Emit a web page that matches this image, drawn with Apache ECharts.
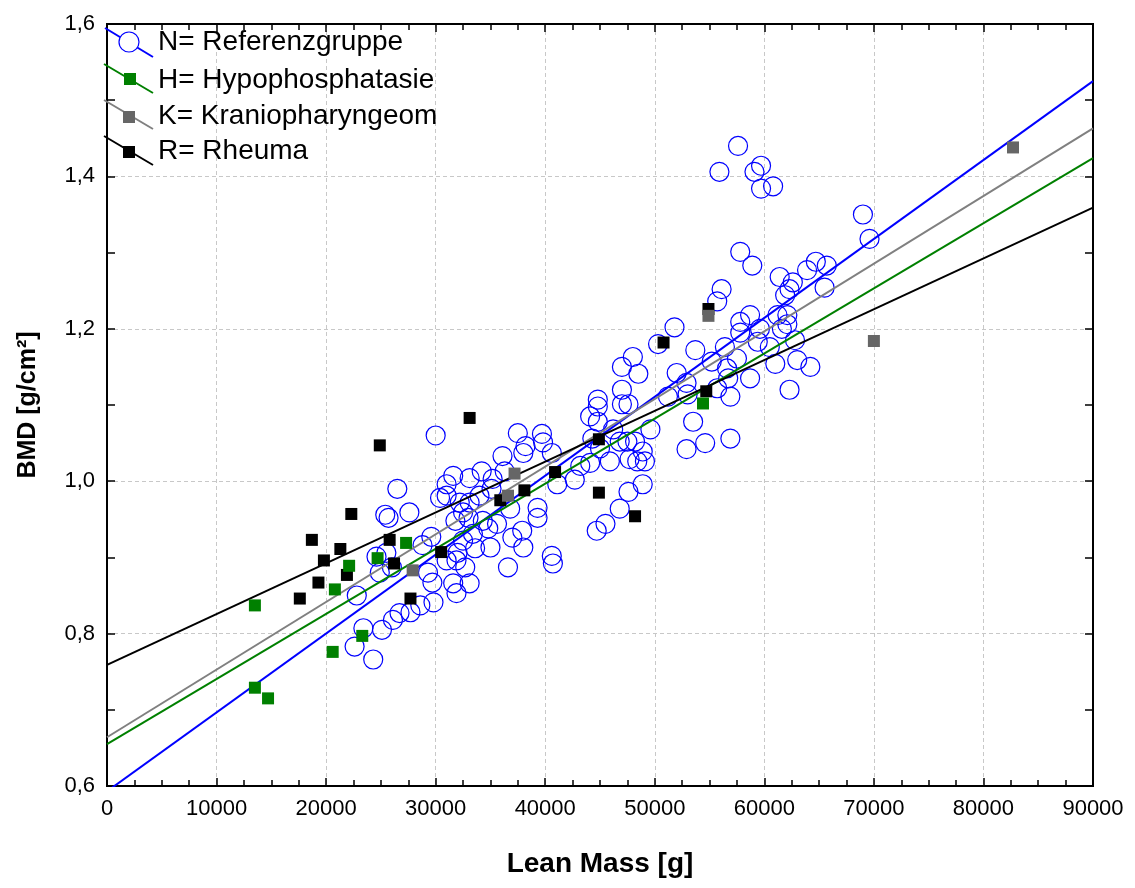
<!DOCTYPE html>
<html>
<head>
<meta charset="utf-8">
<script src="https://cdn.jsdelivr.net/npm/echarts@6/dist/echarts.min.js"></script>
<style>
html,body{margin:0;padding:0;background:#fff;}
#chart{width:1135px;height:888px;}
</style>
</head>
<body>
<div id="chart"></div>
<script>
// ---- Data (Lean Mass [g], BMD [g/cm²]) ----
const xTicks = [0, 10000, 20000, 30000, 40000, 50000, 60000, 70000, 80000, 90000];
const yTicks = [0.6, 0.8, 1.0, 1.2, 1.4, 1.6];

const legendNames = ['N= Referenzgruppe', 'H= Hypophosphatasie', 'K= Kraniopharyngeom', 'R= Rheuma'];

const referenzgruppe = [
  [30000,1.060],[26500,0.990],[25400,0.956],[25700,0.952],[27600,0.959],[24600,0.901],[25500,0.906],
  [26000,0.887],[24900,0.880],[28800,0.916],[29600,0.927],[31000,0.996],[31600,1.007],[33100,1.004],
  [31000,0.981],[30400,0.978],[31800,0.948],[33000,0.952],[33400,0.931],[32500,0.922],[31000,0.896],
  [31900,0.896],[32700,0.887],[33600,0.912],[29700,0.867],[31600,0.866],[33100,0.866],[31900,0.853],
  [29800,0.841],[28600,0.837],[27700,0.828],[26700,0.827],[26100,0.818],[25100,0.805],[23400,0.807],
  [22600,0.783],[24300,0.766],[22800,0.850],[34200,1.013],[32200,0.972],[33100,0.972],[34000,0.981],
  [32500,0.959],[32000,0.906],[29300,0.880],[35200,1.003],[36300,1.013],[35100,0.990],[35600,0.944],
  [36800,0.964],[37000,0.926],[38000,0.913],[36600,0.887],[37900,0.935],[36100,1.033],[37500,1.063],
  [38000,1.037],[38200,1.046],[34300,0.948],[34800,0.938],[39300,0.952],[39300,0.965],[35000,0.913],
  [39800,1.051],[39700,1.062],[40600,1.037],[40600,0.902],[40700,0.892],[41100,0.996],[42700,1.002],
  [44100,1.085],[44800,1.098],[44800,1.107],[47000,1.120],[47000,1.101],[44800,1.078],[46200,1.068],
  [44300,1.056],[45000,1.043],[45900,1.026],[44100,1.024],[43200,1.020],[47500,1.052],[48200,1.052],
  [48900,1.039],[47700,1.029],[48400,1.026],[49600,1.068],[48900,0.996],[47600,0.986],[46800,0.964],
  [45500,0.944],[44700,0.935],[51200,1.111],[47600,1.101],[48000,1.163],[47000,1.150],[48500,1.141],
  [53500,1.078],[52900,1.042],[54600,1.050],[56900,1.056],[46800,1.052],[49100,1.026],[51800,1.202],
  [50300,1.180],[52000,1.142],[52900,1.129],[53000,1.114],[53700,1.172],[56100,1.252],[55700,1.236],
  [57800,1.209],[58700,1.218],[57800,1.195],[59600,1.200],[60500,1.176],[61600,1.200],[62100,1.218],
  [61200,1.218],[62300,1.252],[65500,1.254],[56400,1.176],[57500,1.161],[55200,1.157],[56600,1.148],
  [55700,1.122],[56900,1.111],[58700,1.135],[61000,1.154],[63000,1.159],[64200,1.150],[62300,1.120],
  [62800,1.185],[59400,1.183],[58900,1.283],[61400,1.268],[63900,1.277],[62600,1.261],[61900,1.244],
  [62100,1.206],[56700,1.135],[57600,1.440],[55900,1.406],[59700,1.414],[59100,1.406],[59700,1.384],
  [60800,1.387],[69000,1.350],[69600,1.318],[57800,1.301],[64700,1.288],[65700,1.283]
];

const hypophosphatasie = [
  [13500,0.837],[13500,0.729],[14700,0.715],[20600,0.776],[20800,0.858],[22100,0.889],
  [23300,0.797],[24700,0.899],[27300,0.919],[54400,1.102]
];

const kraniopharyngeom = [
  [27900,0.883],[37200,1.010],[36600,0.981],[54900,1.217],[70000,1.184],[82700,1.438]
];

const rheuma = [
  [24900,1.047],[33100,1.083],[22300,0.957],[18700,0.923],[21300,0.911],[19800,0.896],[19300,0.867],
  [21900,0.877],[17600,0.846],[25800,0.923],[26200,0.892],[27700,0.846],[30500,0.907],[44900,1.055],
  [40900,1.012],[38100,0.988],[35900,0.975],[44900,0.985],[48200,0.954],[50800,1.182],[54700,1.118],
  [54900,1.226]
];

// regression lines: value at x=0 and x=90000
const fitN = [[0,0.593],[90000,1.525]];
const fitH = [[0,0.655],[90000,1.424]];
const fitK = [[0,0.664],[90000,1.463]];
const fitR = [[0,0.759],[90000,1.359]];

// ---- Styles ----
const FONT = '"Liberation Sans", Arial, sans-serif';
const BLUE = '#0000ff', GREEN = '#008000', GRAYL = '#808080', GRAYM = '#666666', BLACK = '#000000';

const chart = echarts.init(document.getElementById('chart'), null, {renderer: 'canvas'});

const fmtY = v => v.toFixed(1).replace('.', ',');
const fmtX = v => String(Math.round(v));

function lineSeries(data, color, z) {
  return {type: 'line', data: data, showSymbol: false, symbol: 'none', clip: true, silent: true,
    lineStyle: {color: color, width: 2}, z: z, animation: false};
}

const option = {
  backgroundColor: '#ffffff',
  animation: false,
  grid: {left: 107, right: 42, top: 24, bottom: 102, containLabel: false,
    show: true, borderColor: '#000', borderWidth: 2, backgroundColor: 'transparent'},
  xAxis: [{
    type: 'value', min: xTicks[0], max: xTicks[xTicks.length - 1], interval: 10000, position: 'bottom',
    name: 'Lean Mass [g]', nameLocation: 'middle', nameGap: 64,
    nameTextStyle: {fontFamily: FONT, fontSize: 28, fontWeight: 'bold', color: '#000'},
    axisLine: {show: true, onZero: false, lineStyle: {color: '#000', width: 2}},
    axisTick: {show: true, inside: true, length: 8, lineStyle: {color: '#000', width: 1.5}},
    minorTick: {show: true, splitNumber: 4, length: 6, lineStyle: {color: '#000', width: 1.5}},
    axisLabel: {fontFamily: FONT, fontSize: 22, color: '#000', margin: 12, formatter: fmtX},
    splitLine: {show: true, lineStyle: {color: '#c8c8c8', type: [4, 3], width: 1}}
  }, {
    type: 'value', min: xTicks[0], max: xTicks[xTicks.length - 1], interval: 10000, position: 'top',
    axisLine: {show: true, onZero: false, lineStyle: {color: '#000', width: 2}},
    axisTick: {show: true, inside: true, length: 8, lineStyle: {color: '#000', width: 1.5}},
    minorTick: {show: true, splitNumber: 4, length: 6, lineStyle: {color: '#000', width: 1.5}},
    axisLabel: {show: false}, splitLine: {show: false}
  }],
  yAxis: [{
    type: 'value', min: yTicks[0], max: yTicks[yTicks.length - 1], interval: 0.2, position: 'left',
    name: 'BMD [g/cm²]', nameLocation: 'middle', nameGap: 66, nameRotate: 90,
    nameTextStyle: {fontFamily: FONT, fontSize: 25, fontWeight: 'bold', color: '#000'},
    axisLine: {show: true, onZero: false, lineStyle: {color: '#000', width: 2}},
    axisTick: {show: true, inside: true, length: 8, lineStyle: {color: '#000', width: 1.5}},
    minorTick: {show: true, splitNumber: 2, length: 8, lineStyle: {color: '#000', width: 1.5}},
    axisLabel: {fontFamily: FONT, fontSize: 22, color: '#000', margin: 12, formatter: fmtY},
    splitLine: {show: true, lineStyle: {color: '#c8c8c8', type: [4, 3], width: 1}}
  }, {
    type: 'value', min: yTicks[0], max: yTicks[yTicks.length - 1], interval: 0.2, position: 'right',
    axisLine: {show: true, onZero: false, lineStyle: {color: '#000', width: 2}},
    axisTick: {show: true, inside: true, length: 8, lineStyle: {color: '#000', width: 1.5}},
    minorTick: {show: true, splitNumber: 2, length: 8, lineStyle: {color: '#000', width: 1.5}},
    axisLabel: {show: false}, splitLine: {show: false}
  }],
  series: [
    {name: legendNames[0], type: 'scatter', data: referenzgruppe, symbol: 'circle', symbolSize: 19,
      itemStyle: {color: 'rgba(0,0,0,0)', borderColor: BLUE, borderWidth: 1.2, opacity: 1}, z: 2},
    lineSeries(fitN, BLUE, 3),
    lineSeries(fitK, GRAYL, 3),
    lineSeries(fitH, GREEN, 3),
    lineSeries(fitR, BLACK, 3),
    {name: legendNames[3], type: 'scatter', data: rheuma, symbol: 'rect', symbolSize: 12,
      itemStyle: {color: BLACK, opacity: 1}, z: 4},
    {name: legendNames[1], type: 'scatter', data: hypophosphatasie, symbol: 'rect', symbolSize: 12,
      itemStyle: {color: GREEN, opacity: 1}, z: 5},
    {name: legendNames[2], type: 'scatter', data: kraniopharyngeom, symbol: 'rect', symbolSize: 12,
      itemStyle: {color: GRAYM, opacity: 1}, z: 6}
  ],
  graphic: [
    // legend (decorative sample marks + real text)
    {type: 'line', shape: {x1: 105, y1: 28, x2: 153, y2: 57}, style: {stroke: BLUE, lineWidth: 2}, z: 100},
    {type: 'circle', shape: {cx: 129, cy: 42, r: 10}, style: {fill: '#fff', stroke: BLUE, lineWidth: 1.2}, z: 101},
    {type: 'text', x: 158, y: 42, style: {text: legendNames[0], font: '28px ' + FONT, fill: '#000', textVerticalAlign: 'middle', verticalAlign: 'middle'}, z: 101},

    {type: 'line', shape: {x1: 104, y1: 64, x2: 153, y2: 93}, style: {stroke: GREEN, lineWidth: 2}, z: 100},
    {type: 'rect', shape: {x: 124, y: 73, width: 12, height: 12}, style: {fill: GREEN}, z: 101},
    {type: 'text', x: 158, y: 80, style: {text: legendNames[1], font: '28px ' + FONT, fill: '#000', textVerticalAlign: 'middle', verticalAlign: 'middle'}, z: 101},

    {type: 'line', shape: {x1: 104, y1: 100, x2: 153, y2: 129}, style: {stroke: GRAYL, lineWidth: 2}, z: 100},
    {type: 'rect', shape: {x: 123, y: 111, width: 12, height: 12}, style: {fill: GRAYM}, z: 101},
    {type: 'text', x: 158, y: 116, style: {text: legendNames[2], font: '28px ' + FONT, fill: '#000', textVerticalAlign: 'middle', verticalAlign: 'middle'}, z: 101},

    {type: 'line', shape: {x1: 104, y1: 136, x2: 153, y2: 165}, style: {stroke: BLACK, lineWidth: 2}, z: 100},
    {type: 'rect', shape: {x: 123, y: 146, width: 12, height: 12}, style: {fill: BLACK}, z: 101},
    {type: 'text', x: 158, y: 151, style: {text: legendNames[3], font: '28px ' + FONT, fill: '#000', textVerticalAlign: 'middle', verticalAlign: 'middle'}, z: 101}
  ]
};

chart.setOption(option);
</script>
</body>
</html>
